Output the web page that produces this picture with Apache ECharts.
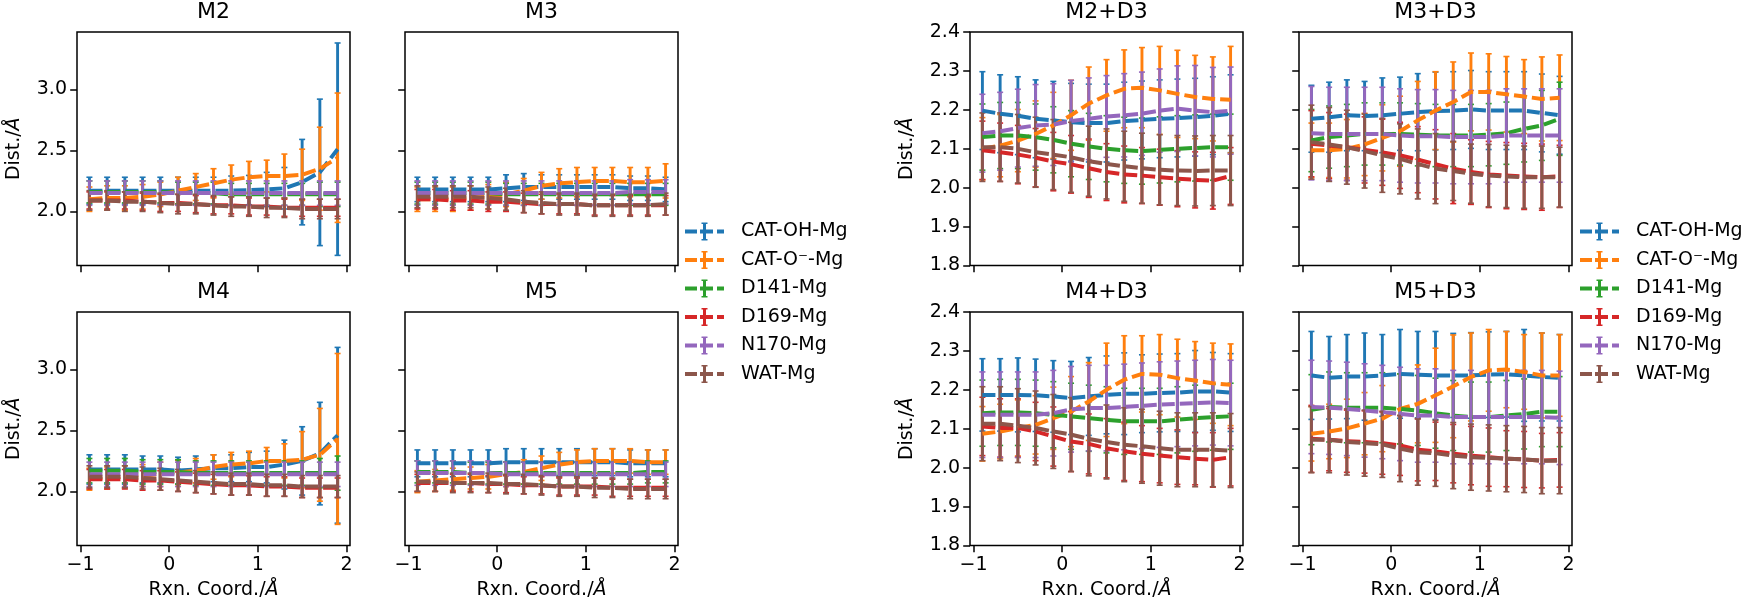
<!DOCTYPE html>
<html><head><meta charset="utf-8">
<script src="https://cdn.jsdelivr.net/npm/echarts@6/dist/echarts.min.js"></script>
<style>html,body{margin:0;padding:0;background:#fff}#c{width:1752px;height:608px}</style>
</head><body><div id="c"></div>
<script>
// ---------------- data ----------------
const rxnCoord = [-0.9,-0.7,-0.5,-0.3,-0.1,0.1,0.3,0.5,0.7,0.9,1.1,1.3,1.5,1.7,1.9];
const seriesNames = ['CAT-OH-Mg','CAT-O\u207B-Mg','D141-Mg','D169-Mg','N170-Mg','WAT-Mg'];
const panelTitles = ['M2','M3','M4','M5','M2+D3','M3+D3','M4+D3','M5+D3'];
const xTicks = [-1,0,1,2];
const yTicksLeft = [2.0,2.5,3.0];
const yTicksRight = [1.8,1.9,2.0,2.1,2.2,2.3,2.4];

// order in each panel: CAT-OH, CAT-O-, D141, D169, N170, WAT
const meanM2 = [
 [2.17,2.17,2.17,2.17,2.17,2.17,2.17,2.17,2.17,2.175,2.18,2.19,2.24,2.32,2.51],
 [2.10,2.11,2.11,2.12,2.14,2.17,2.20,2.23,2.26,2.28,2.29,2.29,2.30,2.35,2.44],
 [2.16,2.16,2.16,2.16,2.16,2.15,2.15,2.15,2.14,2.14,2.14,2.14,2.14,2.14,2.14],
 [2.09,2.09,2.09,2.08,2.07,2.07,2.06,2.05,2.05,2.04,2.04,2.03,2.03,2.03,2.03],
 [2.15,2.15,2.15,2.15,2.15,2.15,2.15,2.15,2.15,2.15,2.15,2.15,2.15,2.15,2.15],
 [2.09,2.09,2.08,2.08,2.07,2.06,2.06,2.05,2.04,2.04,2.03,2.03,2.02,2.02,2.02]
];
const errM2 = [
 [0.11,0.11,0.11,0.11,0.11,0.11,0.11,0.11,0.12,0.12,0.14,0.17,0.35,0.60,0.87],
 [0.10,0.10,0.10,0.10,0.10,0.11,0.11,0.12,0.12,0.13,0.13,0.18,0.21,0.34,0.53],
 [0.09,0.09,0.09,0.09,0.09,0.09,0.09,0.09,0.09,0.09,0.09,0.09,0.09,0.10,0.10],
 [0.07,0.07,0.07,0.07,0.07,0.07,0.07,0.07,0.07,0.07,0.07,0.07,0.07,0.07,0.07],
 [0.10,0.10,0.10,0.10,0.10,0.10,0.10,0.10,0.10,0.10,0.10,0.10,0.10,0.10,0.10],
 [0.08,0.08,0.08,0.08,0.08,0.08,0.08,0.08,0.08,0.08,0.08,0.08,0.08,0.08,0.08]
];
const meanM3 = [
 [2.18,2.18,2.18,2.18,2.18,2.19,2.20,2.20,2.20,2.20,2.20,2.20,2.19,2.19,2.18],
 [2.10,2.10,2.10,2.11,2.12,2.14,2.17,2.21,2.23,2.24,2.25,2.25,2.24,2.24,2.25],
 [2.15,2.15,2.15,2.15,2.15,2.14,2.14,2.14,2.14,2.14,2.14,2.14,2.14,2.14,2.14],
 [2.10,2.10,2.09,2.09,2.08,2.08,2.07,2.06,2.06,2.06,2.05,2.05,2.05,2.05,2.05],
 [2.15,2.15,2.15,2.15,2.15,2.15,2.15,2.15,2.15,2.15,2.15,2.15,2.16,2.16,2.16],
 [2.12,2.12,2.12,2.12,2.11,2.10,2.08,2.07,2.06,2.06,2.05,2.05,2.05,2.05,2.06]
];
const errM3 = [
 [0.10,0.10,0.10,0.10,0.10,0.11,0.11,0.10,0.10,0.10,0.10,0.10,0.10,0.10,0.10],
 [0.10,0.10,0.10,0.10,0.10,0.10,0.10,0.11,0.12,0.12,0.11,0.11,0.12,0.12,0.14],
 [0.09,0.09,0.09,0.09,0.09,0.09,0.09,0.09,0.09,0.09,0.09,0.09,0.09,0.09,0.09],
 [0.08,0.08,0.08,0.08,0.08,0.08,0.08,0.08,0.08,0.08,0.08,0.08,0.08,0.08,0.08],
 [0.10,0.10,0.10,0.10,0.10,0.10,0.10,0.10,0.10,0.10,0.10,0.10,0.10,0.10,0.10],
 [0.09,0.09,0.09,0.09,0.09,0.09,0.09,0.09,0.09,0.09,0.09,0.09,0.09,0.09,0.09]
];
const meanM4 = [
 [2.18,2.18,2.18,2.18,2.18,2.17,2.18,2.19,2.19,2.20,2.20,2.22,2.25,2.31,2.46],
 [2.10,2.11,2.12,2.13,2.14,2.155,2.17,2.20,2.22,2.23,2.25,2.25,2.26,2.30,2.43],
 [2.17,2.17,2.17,2.16,2.16,2.16,2.15,2.15,2.15,2.15,2.15,2.15,2.15,2.15,2.15],
 [2.10,2.10,2.10,2.09,2.09,2.08,2.07,2.06,2.05,2.05,2.04,2.04,2.03,2.03,2.03],
 [2.14,2.14,2.14,2.14,2.14,2.14,2.14,2.14,2.14,2.14,2.14,2.14,2.14,2.14,2.14],
 [2.12,2.12,2.12,2.11,2.10,2.09,2.08,2.07,2.06,2.06,2.05,2.05,2.04,2.04,2.04]
];
const errM4 = [
 [0.12,0.12,0.12,0.11,0.11,0.11,0.11,0.11,0.11,0.12,0.13,0.20,0.28,0.42,0.72],
 [0.09,0.09,0.09,0.09,0.10,0.10,0.10,0.10,0.10,0.10,0.11,0.14,0.23,0.38,0.70],
 [0.10,0.10,0.10,0.10,0.10,0.10,0.10,0.10,0.10,0.10,0.10,0.10,0.10,0.12,0.14],
 [0.08,0.08,0.08,0.08,0.08,0.08,0.08,0.08,0.08,0.08,0.08,0.08,0.08,0.08,0.08],
 [0.10,0.10,0.10,0.10,0.10,0.10,0.10,0.10,0.10,0.10,0.10,0.10,0.10,0.10,0.10],
 [0.09,0.09,0.09,0.09,0.09,0.09,0.09,0.09,0.09,0.09,0.09,0.09,0.09,0.09,0.09]
];
const meanM5 = [
 [2.23,2.23,2.23,2.23,2.23,2.24,2.24,2.24,2.24,2.24,2.24,2.24,2.23,2.23,2.23],
 [2.08,2.09,2.10,2.11,2.12,2.14,2.16,2.19,2.22,2.24,2.25,2.25,2.25,2.24,2.24],
 [2.16,2.16,2.16,2.15,2.15,2.15,2.15,2.15,2.15,2.15,2.15,2.15,2.15,2.16,2.16],
 [2.07,2.07,2.07,2.07,2.06,2.06,2.05,2.05,2.04,2.04,2.04,2.03,2.03,2.03,2.03],
 [2.15,2.15,2.15,2.15,2.15,2.14,2.14,2.14,2.14,2.14,2.14,2.14,2.14,2.14,2.14],
 [2.08,2.08,2.07,2.07,2.07,2.06,2.06,2.05,2.04,2.04,2.03,2.03,2.02,2.02,2.02]
];
const errM5 = [
 [0.11,0.11,0.11,0.11,0.11,0.11,0.11,0.11,0.11,0.11,0.11,0.11,0.11,0.11,0.11],
 [0.09,0.09,0.09,0.09,0.10,0.10,0.10,0.10,0.10,0.10,0.10,0.10,0.10,0.10,0.10],
 [0.09,0.09,0.09,0.09,0.09,0.09,0.09,0.09,0.09,0.09,0.09,0.09,0.09,0.09,0.09],
 [0.07,0.07,0.07,0.07,0.07,0.07,0.07,0.07,0.07,0.07,0.07,0.07,0.07,0.07,0.07],
 [0.10,0.10,0.10,0.10,0.10,0.10,0.10,0.10,0.10,0.10,0.10,0.10,0.10,0.10,0.10],
 [0.08,0.08,0.08,0.08,0.08,0.08,0.08,0.08,0.08,0.08,0.08,0.08,0.08,0.08,0.08]
];
const meanM2D3 = [
 [2.198,2.19,2.185,2.177,2.173,2.168,2.166,2.166,2.171,2.174,2.177,2.179,2.181,2.185,2.19],
 [2.10,2.108,2.121,2.138,2.16,2.186,2.216,2.237,2.254,2.257,2.25,2.241,2.233,2.228,2.226],
 [2.13,2.134,2.134,2.13,2.123,2.113,2.106,2.10,2.096,2.094,2.097,2.10,2.102,2.104,2.104],
 [2.096,2.091,2.085,2.077,2.067,2.06,2.05,2.04,2.034,2.031,2.027,2.023,2.02,2.018,2.03],
 [2.14,2.145,2.153,2.16,2.162,2.171,2.177,2.183,2.186,2.19,2.198,2.203,2.198,2.194,2.198],
 [2.104,2.104,2.10,2.091,2.085,2.078,2.068,2.061,2.055,2.05,2.046,2.044,2.043,2.044,2.044]
];
const errM2D3 = [
 [0.10,0.10,0.10,0.10,0.10,0.10,0.10,0.10,0.10,0.10,0.10,0.10,0.10,0.10,0.10],
 [0.08,0.08,0.08,0.085,0.085,0.09,0.094,0.092,0.10,0.103,0.113,0.112,0.107,0.108,0.137],
 [0.085,0.085,0.085,0.085,0.085,0.085,0.085,0.085,0.085,0.085,0.085,0.085,0.085,0.085,0.085],
 [0.075,0.075,0.075,0.075,0.075,0.074,0.075,0.073,0.073,0.072,0.072,0.072,0.072,0.073,0.073],
 [0.10,0.10,0.10,0.105,0.105,0.105,0.105,0.105,0.107,0.107,0.107,0.11,0.116,0.115,0.112],
 [0.088,0.088,0.088,0.09,0.09,0.09,0.09,0.09,0.09,0.09,0.09,0.09,0.09,0.09,0.09]
];
const meanM3D3 = [
 [2.177,2.181,2.186,2.184,2.186,2.19,2.194,2.197,2.198,2.201,2.198,2.198,2.198,2.192,2.186],
 [2.096,2.096,2.10,2.111,2.128,2.145,2.173,2.198,2.22,2.246,2.246,2.24,2.234,2.228,2.231],
 [2.121,2.13,2.134,2.138,2.138,2.138,2.136,2.134,2.134,2.134,2.136,2.14,2.151,2.16,2.177],
 [2.113,2.108,2.104,2.097,2.091,2.083,2.072,2.06,2.049,2.04,2.034,2.031,2.029,2.027,2.029],
 [2.14,2.138,2.138,2.138,2.138,2.134,2.132,2.132,2.13,2.13,2.13,2.134,2.134,2.134,2.134],
 [2.117,2.111,2.104,2.094,2.083,2.074,2.061,2.049,2.043,2.036,2.031,2.029,2.027,2.027,2.027]
];
const errM3D3 = [
 [0.086,0.09,0.091,0.089,0.096,0.094,0.099,0.10,0.10,0.10,0.10,0.10,0.10,0.10,0.10],
 [0.07,0.07,0.075,0.08,0.085,0.09,0.10,0.10,0.103,0.10,0.098,0.097,0.095,0.108,0.11],
 [0.08,0.08,0.08,0.08,0.08,0.08,0.08,0.08,0.08,0.08,0.08,0.08,0.085,0.09,0.094],
 [0.085,0.085,0.085,0.085,0.085,0.085,0.085,0.089,0.09,0.083,0.085,0.085,0.085,0.085,0.08],
 [0.12,0.12,0.12,0.12,0.12,0.12,0.12,0.12,0.12,0.12,0.12,0.12,0.12,0.12,0.12],
 [0.095,0.095,0.095,0.095,0.095,0.09,0.09,0.09,0.076,0.076,0.08,0.08,0.08,0.08,0.077]
];
const meanM4D3 = [
 [2.187,2.187,2.187,2.186,2.183,2.179,2.183,2.187,2.19,2.19,2.192,2.193,2.196,2.196,2.193],
 [2.087,2.093,2.102,2.11,2.127,2.144,2.17,2.20,2.226,2.241,2.239,2.23,2.224,2.217,2.213],
 [2.14,2.142,2.142,2.14,2.136,2.132,2.127,2.123,2.119,2.119,2.119,2.123,2.127,2.13,2.132],
 [2.106,2.102,2.102,2.093,2.08,2.067,2.061,2.05,2.042,2.036,2.031,2.027,2.023,2.02,2.027],
 [2.136,2.136,2.136,2.136,2.14,2.15,2.153,2.153,2.156,2.159,2.162,2.164,2.166,2.168,2.166],
 [2.113,2.113,2.108,2.102,2.093,2.085,2.074,2.066,2.059,2.055,2.05,2.046,2.046,2.046,2.044]
];
const errM4D3 = [
 [0.093,0.093,0.095,0.093,0.092,0.094,0.10,0.10,0.105,0.10,0.10,0.10,0.105,0.10,0.10],
 [0.07,0.07,0.072,0.075,0.08,0.09,0.10,0.12,0.113,0.098,0.103,0.10,0.10,0.103,0.105],
 [0.085,0.085,0.085,0.085,0.085,0.085,0.085,0.085,0.085,0.085,0.085,0.085,0.085,0.085,0.085],
 [0.075,0.075,0.075,0.075,0.076,0.077,0.077,0.076,0.075,0.072,0.07,0.07,0.067,0.07,0.074],
 [0.11,0.11,0.11,0.11,0.11,0.11,0.11,0.11,0.11,0.11,0.11,0.11,0.11,0.11,0.11],
 [0.095,0.095,0.095,0.095,0.095,0.095,0.095,0.095,0.095,0.095,0.095,0.095,0.095,0.095,0.095]
];
const meanM5D3 = [
 [2.237,2.231,2.234,2.234,2.237,2.241,2.239,2.237,2.237,2.237,2.239,2.24,2.237,2.233,2.231],
 [2.087,2.093,2.101,2.113,2.126,2.151,2.164,2.186,2.209,2.233,2.25,2.252,2.246,2.237,2.237],
 [2.149,2.156,2.154,2.154,2.154,2.151,2.147,2.14,2.134,2.13,2.13,2.134,2.138,2.144,2.144],
 [2.074,2.072,2.068,2.066,2.063,2.057,2.046,2.042,2.036,2.031,2.027,2.023,2.021,2.018,2.02],
 [2.156,2.154,2.151,2.147,2.143,2.138,2.134,2.134,2.13,2.13,2.13,2.13,2.13,2.13,2.128],
 [2.072,2.072,2.066,2.063,2.06,2.049,2.04,2.037,2.031,2.027,2.025,2.023,2.021,2.018,2.018]
];
const errM5D3 = [
 [0.113,0.106,0.108,0.112,0.105,0.114,0.111,0.113,0.108,0.11,0.11,0.11,0.118,0.113,0.111],
 [0.07,0.07,0.075,0.08,0.085,0.09,0.10,0.121,0.132,0.113,0.105,0.098,0.096,0.109,0.105],
 [0.09,0.09,0.09,0.09,0.09,0.09,0.09,0.09,0.09,0.09,0.09,0.09,0.09,0.09,0.09],
 [0.086,0.08,0.08,0.08,0.08,0.077,0.08,0.075,0.075,0.075,0.075,0.072,0.072,0.07,0.07],
 [0.12,0.12,0.12,0.12,0.12,0.12,0.12,0.12,0.12,0.12,0.12,0.12,0.12,0.12,0.12],
 [0.085,0.085,0.085,0.085,0.085,0.085,0.085,0.085,0.085,0.085,0.085,0.085,0.085,0.085,0.085]
];

// ---------------- presentation ----------------
const panelMeans = [meanM2, meanM3, meanM4, meanM5, meanM2D3, meanM3D3, meanM4D3, meanM5D3];
const panelErrs  = [errM2, errM3, errM4, errM5, errM2D3, errM3D3, errM4D3, errM5D3];
const colors = ['#1f77b4','#ff7f0e','#2ca02c','#d62728','#9467bd','#8c564b'];
const FONT = 'DejaVu Sans';
const gridPos = [[77,32],[405,32],[77,312],[405,312],[970,32],[1299,32],[970,312],[1299,312]];
const GW = 273, GH = 233.5;
const minus = v => String(v).replace('-', '\u2212');

function errorBarItem(params, api) {
  const x = api.value(0), m = api.value(1), e = api.value(2);
  const p1 = api.coord([x, m + e]);
  const p2 = api.coord([x, m - e]);
  const color = api.visual('color');
  const cw = 3;
  return {type: 'group', children: [
    {type: 'line', shape: {x1: p1[0], y1: p1[1], x2: p2[0], y2: p2[1]}, style: {stroke: color, lineWidth: 2.9}},
    {type: 'line', shape: {x1: p1[0]-cw, y1: p1[1], x2: p1[0]+cw, y2: p1[1]}, style: {stroke: color, lineWidth: 1.6}},
    {type: 'line', shape: {x1: p2[0]-cw, y1: p2[1], x2: p2[0]+cw, y2: p2[1]}, style: {stroke: color, lineWidth: 1.6}}
  ]};
}

const nameStyle = {fontFamily: FONT, fontSize: 19, color: '#000',
  rich: {i: {fontFamily: FONT, fontSize: 19, fontStyle: 'italic', color: '#000'}}};

const grids = [], xAxes = [], yAxes = [], titles = [], series = [];
panelTitles.forEach((t, p) => {
  const right = p >= 4;
  const row = (p % 4) < 2 ? 0 : 1;
  const col = p % 2;
  const [gl, gt] = gridPos[p];
  grids.push({left: gl, top: gt, width: GW, height: GH, show: true, borderColor: '#000', borderWidth: 1.5, backgroundColor: 'transparent', containLabel: false});
  titles.push({text: t, left: gl + GW / 2, top: gt - 30.5, textAlign: 'center', padding: 0,
    textStyle: {fontFamily: FONT, fontSize: 22, fontWeight: 'normal', color: '#000'}});
  xAxes.push({
    type: 'value', gridIndex: p, min: -1.04, max: 2.04,
    splitLine: {show: false}, axisLine: {show: false, onZero: false},
    axisTick: {show: true, customValues: xTicks, length: 6.8, lineStyle: {color: '#000', width: 1.5}},
    axisLabel: {show: row === 1, customValues: xTicks, formatter: v => minus(v), margin: 10,
      fontFamily: FONT, fontSize: 19, color: '#000'},
    name: row === 1 ? 'Rxn. Coord./{i|\u00C5}' : '', nameLocation: 'middle', nameGap: 35,
    nameTextStyle: nameStyle
  });
  yAxes.push({
    type: 'value', gridIndex: p,
    min: right ? 1.8 : 1.557, max: right ? 2.4 : 3.47,
    splitLine: {show: false}, axisLine: {show: false, onZero: false},
    axisTick: {show: true, customValues: right ? yTicksRight : yTicksLeft, length: 6.8, lineStyle: {color: '#000', width: 1.5}},
    axisLabel: {show: col === 0, customValues: right ? yTicksRight : yTicksLeft, formatter: v => Number(v).toFixed(1), margin: 10,
      fontFamily: FONT, fontSize: 19, color: '#000'},
    name: col === 0 ? 'Dist./{i|\u00C5}' : '', nameLocation: 'middle', nameGap: 53,
    nameTextStyle: nameStyle
  });
  const means = panelMeans[p], errs = panelErrs[p];
  seriesNames.forEach((nm, s) => {
    series.push({
      type: 'custom', name: nm, xAxisIndex: p, yAxisIndex: p, z: 2, silent: true,
      itemStyle: {color: colors[s]},
      encode: {x: 0, y: 1},
      data: rxnCoord.map((x, i) => [x, means[s][i], errs[s][i]]),
      renderItem: errorBarItem
    });
  });
  seriesNames.forEach((nm, s) => {
    series.push({
      type: 'line', name: nm + ' mean', xAxisIndex: p, yAxisIndex: p, z: 3, silent: true,
      showSymbol: false, symbol: 'none',
      lineStyle: {color: colors[s], width: 4, type: [13, 5], cap: 'butt'},
      itemStyle: {color: colors[s]},
      data: rxnCoord.map((x, i) => [x, means[s][i]])
    });
  });
});

const legendIcon = 'path://M0,7h12v4h-12z M15,7h13v4h-13z M32,7h7v4h-7z M18,0h3v18h-3z M16.5,0h6v1.5h-6z M16.5,16.5h6v1.5h-6z';
const mkLegend = left => ({
  left: left, top: 222, orient: 'vertical', itemWidth: 39, itemHeight: 18, itemGap: 9.5,
  icon: legendIcon, selectedMode: false, padding: 0,
  formatter: nm => '{g| }' + nm,
  textStyle: {fontFamily: FONT, fontSize: 19, color: '#000', rich: {g: {width: 12, fontSize: 19, fontFamily: FONT}}},
  data: seriesNames.slice()
});

const chart = echarts.init(document.getElementById('c'), null, {renderer: 'canvas'});
chart.setOption({
  animation: false,
  backgroundColor: '#fff',
  title: titles,
  legend: [mkLegend(685), mkLegend(1580)],
  grid: grids, xAxis: xAxes, yAxis: yAxes,
  series: series
});
</script></body></html>
